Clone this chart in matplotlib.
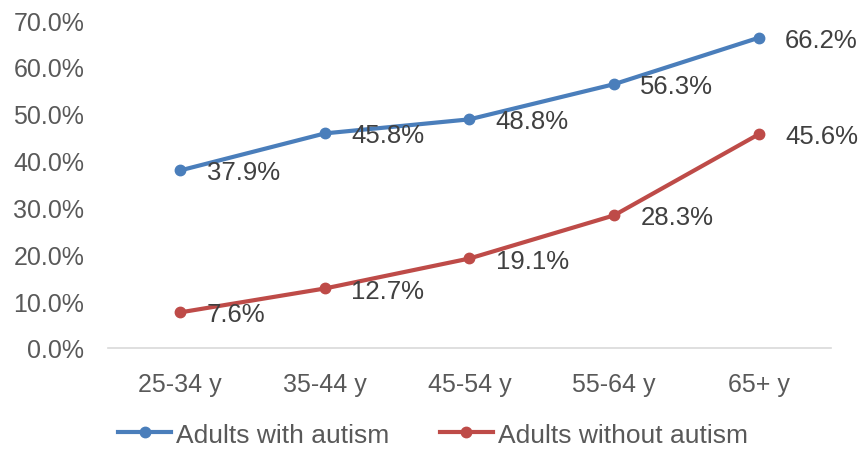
import matplotlib
matplotlib.use("Agg")
import matplotlib.pyplot as plt
from matplotlib.lines import Line2D

categories = ["25-34 y", "35-44 y", "45-54 y", "55-64 y", "65+ y"]
with_autism = [37.9, 45.8, 48.8, 56.3, 66.2]
without_autism = [7.6, 12.7, 19.1, 28.3, 45.6]
series_names = ["Adults with autism", "Adults without autism"]
colors = ["#4A7EBB", "#BE4B48"]
yticks = [0, 10, 20, 30, 40, 50, 60, 70]

plt.rcParams['font.family'] = ['Liberation Sans', 'DejaVu Sans']

fig = plt.figure(figsize=(8.61, 4.52), dpi=100)
ax = fig.add_axes([0.1254, 0.2279, 0.8396, 0.7256])

x = list(range(len(categories)))

for vals, col in zip([with_autism, without_autism], colors):
    ax.plot(x, vals, color=col, lw=3.0, solid_capstyle='round', solid_joinstyle='round',
            marker='o', ms=7.5, zorder=3)
    for xi, v in zip(x, vals):
        ax.annotate(f"{v:.1f}%", (xi, v), xytext=(19, -1.5), textcoords='offset points',
                    ha='left', va='center', fontsize=18.5, color='#404040', zorder=5)

ax.set_xlim(-0.5, len(categories) - 0.5)
ax.set_ylim(0, 70)
ax.set_xticks(x)
ax.set_xticklabels(categories)
ax.set_yticks(yticks)
ax.set_yticklabels([f"{t:.1f}%" for t in yticks])
ax.tick_params(axis='both', length=0, labelsize=18, colors='#595959')
ax.tick_params(axis='x', pad=17)
ax.tick_params(axis='y', pad=17)
for s in ['top', 'right', 'left']:
    ax.spines[s].set_visible(False)
ax.spines['bottom'].set_color('#D9D9D9')
ax.spines['bottom'].set_linewidth(1.2)

handles = [Line2D([0], [0], color=c, lw=3.0, marker='o', ms=7.5) for c in colors]
fig.legend(handles, series_names, loc='center', bbox_to_anchor=(0.503, 0.036), ncol=2,
           frameon=False, fontsize=19, handlelength=2.0, handletextpad=0.2,
           columnspacing=1.9, labelcolor='#595959')

fig.savefig("out.png", dpi=100)
